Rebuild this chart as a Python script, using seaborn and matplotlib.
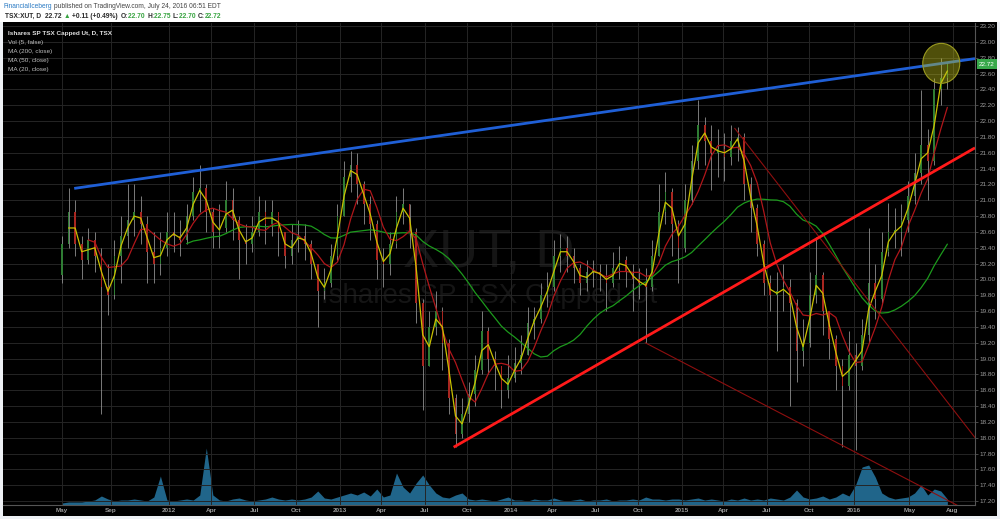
import matplotlib
matplotlib.use('Agg')
import matplotlib.pyplot as plt
import matplotlib.dates as mdates
import matplotlib.transforms as mtransforms
from matplotlib.patches import Ellipse, Rectangle
import numpy as np
import pandas as pd
import seaborn as sns

sns.set_theme(style='dark')
plt.rcParams['font.family'] = ['Liberation Sans', 'DejaVu Sans']

# ---- data, squeezed into 2-week bars ----
first_date = '2011-05-20'
first_open = 20.05

closes = [20.45, 20.85, 20.45, 20.25, 20.5, 20.3, 19.9, 19.8, 20.3, 20.55,
          20.75, 20.85, 20.7, 20.35, 20.2, 20.4, 20.6, 20.55, 20.5, 20.8,
          21.1, 21.15, 20.85, 20.6, 20.65, 21.0, 20.75, 20.5, 20.45, 20.6,
          20.85, 20.7, 20.85, 20.6, 20.3, 20.5, 20.55, 20.45, 20.2, 19.85,
          19.95, 20.3, 20.8, 21.3, 21.45, 21.2, 20.95, 20.7, 20.25, 20.2,
          20.45, 20.85, 20.95, 20.6, 19.7, 18.9, 19.4, 19.6, 19.2, 18.5,
          18.05, 18.3, 18.55, 18.85, 19.35, 19.0, 18.9, 18.6, 18.75, 18.95,
          19.05, 19.45, 19.5, 19.8, 19.9, 20.3, 20.4, 20.3, 20.15, 19.95,
          20.1, 20.1, 20.05, 19.95, 20.15, 20.25, 20.1, 20.0, 19.95, 19.9,
          20.3, 20.85, 21.1, 20.7, 20.4, 21.0, 21.5, 21.95, 21.75, 21.6,
          21.65, 21.55, 21.75, 21.8, 21.2, 20.9, 20.45, 19.95, 19.8, 19.85,
          19.9, 19.7, 19.1, 19.2, 19.8, 20.05, 19.6, 19.25, 18.9, 18.65,
          19.05, 18.9, 19.3, 19.95, 19.75, 20.35, 20.6, 20.6, 20.75, 21.05,
          21.35, 21.7, 21.5, 22.4, 22.55, 22.72]

highs = [20.55, 21.15, 21.0, 20.55, 20.65, 20.6, 20.4, 20.2, 20.5, 20.8,
         21.2, 21.2, 21.05, 20.8, 20.6, 20.6, 20.85, 20.85, 20.75, 20.95,
         21.3, 21.45, 21.2, 20.9, 20.95, 21.25, 21.15, 20.8, 20.7, 20.8,
         21.05, 21.0, 21.0, 20.85, 20.6, 20.7, 20.75, 20.7, 20.5, 20.2,
         20.15, 20.45, 20.95, 21.5, 21.62, 21.6, 21.25, 21.05, 20.75, 20.4,
         20.6, 21.05, 21.15, 20.95, 20.65, 19.75, 19.6, 19.85, 19.65, 19.25,
         18.55, 18.5, 18.7, 19.05, 19.6, 19.4, 19.1, 18.9, 19.05, 19.15,
         19.3, 19.65, 19.65, 19.95, 20.1, 20.5, 20.58, 20.55, 20.4, 20.2,
         20.25, 20.25, 20.2, 20.2, 20.35, 20.42, 20.3, 20.2, 20.15, 20.15,
         20.5, 21.2, 21.36, 21.15, 20.75, 21.2, 21.7, 22.27, 22.05, 21.95,
         21.9, 21.85, 21.95, 21.92, 21.85, 21.3, 20.95, 20.5, 20.05, 20.1,
         20.2, 20.0, 19.75, 19.5, 20.1, 20.54, 20.1, 19.6, 19.3, 19.0,
         19.35, 19.2, 19.5, 20.65, 20.2, 20.6, 20.96, 20.9, 20.95, 21.25,
         21.6, 22.39, 21.9, 22.55, 22.8, 22.75]

lows = [19.95, 20.4, 20.3, 20.0, 20.2, 20.1, 18.3, 19.55, 19.75, 19.95,
        20.4, 20.55, 20.45, 19.95, 19.95, 20.05, 20.3, 20.35, 20.3, 20.45,
        20.75, 20.85, 20.6, 20.4, 20.4, 20.6, 20.5, 20.0, 20.2, 20.35,
        20.55, 20.45, 20.55, 20.3, 20.15, 20.2, 20.35, 20.25, 20.0, 19.4,
        19.75, 19.9, 20.25, 20.8, 21.1, 20.95, 20.7, 20.5, 20.0, 19.9,
        20.05, 20.4, 20.7, 20.4, 19.45, 18.35, 18.9, 19.3, 18.85, 18.3,
        17.88, 18.0, 18.2, 18.4, 18.8, 18.8, 18.6, 18.38, 18.5, 18.7,
        18.8, 19.05, 19.25, 19.45, 19.65, 19.85, 20.1, 20.1, 19.95, 19.8,
        19.85, 19.9, 19.85, 19.6, 19.9, 20.0, 19.9, 19.6, 19.75, 19.2,
        19.85, 20.3, 20.7, 20.3, 19.95, 20.35, 20.95, 21.4, 21.45, 21.13,
        21.3, 21.25, 21.45, 21.5, 21.0, 20.6, 20.3, 19.8, 19.6, 19.1,
        19.6, 18.4, 18.7, 18.9, 19.15, 19.7, 19.3, 19.0, 18.6, 17.88,
        18.6, 17.85, 18.85, 19.2, 19.5, 19.7, 20.3, 20.4, 20.3, 20.6,
        20.95, 21.2, 21.0, 21.45, 22.2, 22.4]

# relative volume per 2-week bucket
volume = [2, 3, 3, 3, 4, 5, 9, 6, 4, 5, 5, 6, 5, 4, 8, 29, 5, 4, 5, 6,
          5, 10, 57, 10, 5, 4, 6, 7, 5, 4, 5, 6, 8, 6, 5, 6, 5, 6, 8, 14,
          7, 6, 8, 10, 12, 10, 13, 9, 16, 8, 10, 32, 18, 12, 22, 30, 20, 12, 8, 7,
          10, 12, 6, 5, 6, 5, 4, 6, 8, 5, 5, 4, 6, 5, 5, 7, 5, 4, 5, 6,
          4, 5, 5, 6, 4, 5, 5, 6, 5, 8, 6, 6, 5, 6, 6, 5, 6, 7, 5, 6,
          5, 4, 6, 5, 7, 5, 6, 5, 7, 6, 5, 8, 15, 8, 6, 7, 9, 6, 8, 12,
          9, 20, 38, 40, 28, 12, 8, 6, 7, 8, 12, 20, 10, 16, 14, 6]

# drawings on the chart: two anchor points each, extended to the right edge
blue_dates, blue_prices = ['2011-06-15', '2015-01-30'], [21.15, 22.28]
red_dates, red_prices = ['2013-09-02', '2014-10-16'], [17.88, 19.27]
chan_lo_dates, chan_lo_prices = ['2014-10-16', '2016-01-13'], [19.2, 17.8]
chan_hi_dates, chan_hi_prices = ['2015-04-25', '2016-01-02'], [21.91, 19.99]
circle_date, circle_price = '2016-07-09', 22.73

tick_dates = ['2011-05-20', '2011-09-01', '2012-01-03', '2012-04-02', '2012-07-03',
              '2012-10-01', '2013-01-02', '2013-04-01', '2013-07-02', '2013-10-01',
              '2014-01-02', '2014-04-01', '2014-07-02', '2014-10-01', '2015-01-02',
              '2015-04-01', '2015-07-02', '2015-10-01', '2016-01-04', '2016-05-02',
              '2016-08-02']
tick_labels = ['May', 'Sep', '2012', 'Apr', 'Jul', 'Oct', '2013', 'Apr', 'Jul', 'Oct',
               '2014', 'Apr', 'Jul', 'Oct', '2015', 'Apr', 'Jul', 'Oct', '2016', 'May', 'Aug']

last_price = 22.72

# ---- frame ----
df = pd.DataFrame({'close': closes, 'high': highs, 'low': lows, 'vol': volume})
df['date'] = pd.date_range(first_date, periods=len(df), freq='14D')
df['open'] = df['close'].shift(1).fillna(first_open)
df['x'] = mdates.date2num(df['date'])
# 20/50/200 day MAs -> 2/5/20 two-week bars
df['ma20'] = df['close'].rolling(2).mean()
df['ma50'] = df['close'].rolling(5).mean()
df['ma200'] = df['close'].rolling(20).mean()

W, H = 1000, 519
fx = lambda px: px / W
fy = lambda py: 1 - py / H

fig = plt.figure(figsize=(10, 5.19), dpi=100, facecolor='#eef1f5')
fig.patches.append(Rectangle((0, fy(22)), 1, 1 - fy(22), transform=fig.transFigure,
                             fc='white', ec='none', zorder=-2))
fig.patches.append(Rectangle((fx(3), fy(516)), fx(994), fy(22) - fy(516),
                             transform=fig.transFigure, fc='black', ec='none', zorder=-1))

rect = [fx(3), fy(505), fx(972), fy(23) - fy(505)]
axv = fig.add_axes(rect)
ax = fig.add_axes(rect, sharex=axv)
axv.set_facecolor('black')
ax.set_facecolor('none')

# volume pane (behind)
axv.fill_between(df['x'], df['vol'], color='#20658a', linewidth=0, zorder=2)
axv.set_ylim(0, 482)
axv.set_yticks([])
axv.tick_params(bottom=False, labelbottom=False)
for s in axv.spines.values():
    s.set_visible(False)

# watermark (in the back pane so candles sit on top)
axv.text(fx(489), fy(267), 'XUT, D', fontsize=39, color='#151515', ha='center',
         va='baseline', transform=fig.transFigure, zorder=1)
axv.text(fx(489), fy(303), 'Ishares SP TSX Capped Ut', fontsize=20, color='#151515',
         ha='center', va='baseline', transform=fig.transFigure, zorder=1)

# candles - thin, like the daily ones on the screenshot
up = df['close'] >= df['open']
body_col = np.where(up, '#2f7d34', '#a82620')
ax.vlines(df['x'], df['low'], df['high'], colors='#8f8f8f', linewidth=0.6, zorder=2)
ax.bar(df['x'], (df['close'] - df['open']).abs().clip(lower=0.02),
       bottom=np.minimum(df['open'], df['close']), width=3.5, color=body_col,
       linewidth=0, zorder=3)

# moving averages
sns.lineplot(data=df, x='x', y='ma200', color='#1c9a1c', lw=0.9, ax=ax, zorder=4)
sns.lineplot(data=df, x='x', y='ma50', color='#b0161a', lw=0.9, ax=ax, zorder=4)
sns.lineplot(data=df, x='x', y='ma20', color='#c9c000', lw=0.9, ax=ax, zorder=4)

x_left = mdates.date2num(pd.Timestamp('2011-01-14'))
x_right = mdates.date2num(pd.Timestamp('2016-09-19'))


def ray(dates, prices, **kw):
    x0, x1 = mdates.date2num(pd.to_datetime(dates))
    slope = (prices[1] - prices[0]) / (x1 - x0)
    ax.plot([x0, x_right], [prices[0], prices[0] + slope * (x_right - x0)], **kw)


ray(chan_lo_dates, chan_lo_prices, color='#8e0f0f', lw=0.8, zorder=5)
ray(chan_hi_dates, chan_hi_prices, color='#8e0f0f', lw=0.8, zorder=5)
ray(blue_dates, blue_prices, color='#1f5fd6', lw=2.0, zorder=6, solid_capstyle='butt')
ray(red_dates, red_prices, color='#ff1a1a', lw=2.0, zorder=6, solid_capstyle='butt')

ax.add_patch(Ellipse((mdates.date2num(pd.Timestamp(circle_date)), circle_price),
                     width=79, height=0.505, fc=(0.78, 0.78, 0.1, 0.4),
                     ec='#9a9a20', lw=0.8, zorder=7))

# axes cosmetics
ax.set_xlim(x_left, x_right)
ax.set_ylim(17.15, 23.24)
ax.set_xlabel('')
ax.set_ylabel('')
yt = np.round(np.arange(17.2, 23.21, 0.2), 2)
ax.set_yticks(yt)
ax.set_yticklabels([f'{v:.2f}' for v in yt])
ax.set_xticks(mdates.date2num(pd.to_datetime(tick_dates)))
ax.set_xticklabels(tick_labels, fontweight='bold')
ax.grid(True, color='#252525', lw=0.7)
ax.set_axisbelow(True)
ax.yaxis.tick_right()
ax.tick_params(axis='y', length=2, width=0.6, colors='#555555', labelcolor='#9a9a9a',
               labelsize=4.6, pad=1.5)
ax.tick_params(axis='x', length=0, labelcolor='#9a9a9a', labelsize=4.6, pad=2)
for side in ['left', 'top']:
    ax.spines[side].set_visible(False)
for side in ['right', 'bottom']:
    ax.spines[side].set_color('#555555')
    ax.spines[side].set_linewidth(0.8)

# last price tag
ax.text(1.004, last_price, f'{last_price:.2f}', transform=mtransforms.blended_transform_factory(
        ax.transAxes, ax.transData), ha='left', va='center', color='white', fontsize=4.6,
        bbox=dict(boxstyle='square,pad=0.35', fc='#37a84a', ec='none'), zorder=10, clip_on=False)

# legend block in the pane
legend_lines = ['Ishares SP TSX Capped Ut, D, TSX', 'Vol (5, false)', 'MA (200, close)',
                'MA (50, close)', 'MA (20, close)']
for i, line in enumerate(legend_lines):
    fig.text(fx(8), fy(33 + 9.2 * i), line, fontsize=4.6, va='center',
             color='#e0e0e0' if i == 0 else '#bdbdbd',
             fontweight='bold' if i == 0 else 'normal')

# header
renderer = fig.canvas.get_renderer()


def text_run(x, y, pieces, size=4.8):
    for s, c, w in pieces:
        t = fig.text(x, y, s, color=c, fontsize=size, fontweight=w, va='center')
        x += t.get_window_extent(renderer=renderer).width / fig.bbox.width


green = '#36a33f'
dark = '#2a2a2a'
text_run(fx(3), fy(7), [('FinancialIceberg', '#2b7bc4', 'normal'),
                        (' published on TradingView.com, July 24, 2016 06:51 EDT', '#444444', 'normal')])
text_run(fx(5), fy(16), [('TSX:XUT, D  ', dark, 'bold'), ('22.72 ', dark, 'bold'),
                         ('▲', green, 'normal'), (' +0.11 (+0.49%)  ', dark, 'bold'),
                         ('O:', dark, 'bold'), ('22.70 ', green, 'bold'),
                         ('H:', dark, 'bold'), ('22.75 ', green, 'bold'),
                         ('L:', dark, 'bold'), ('22.70 ', green, 'bold'),
                         ('C:', dark, 'bold'), ('22.72', green, 'bold')])

fig.savefig('out.png', dpi=100, facecolor=fig.get_facecolor())
